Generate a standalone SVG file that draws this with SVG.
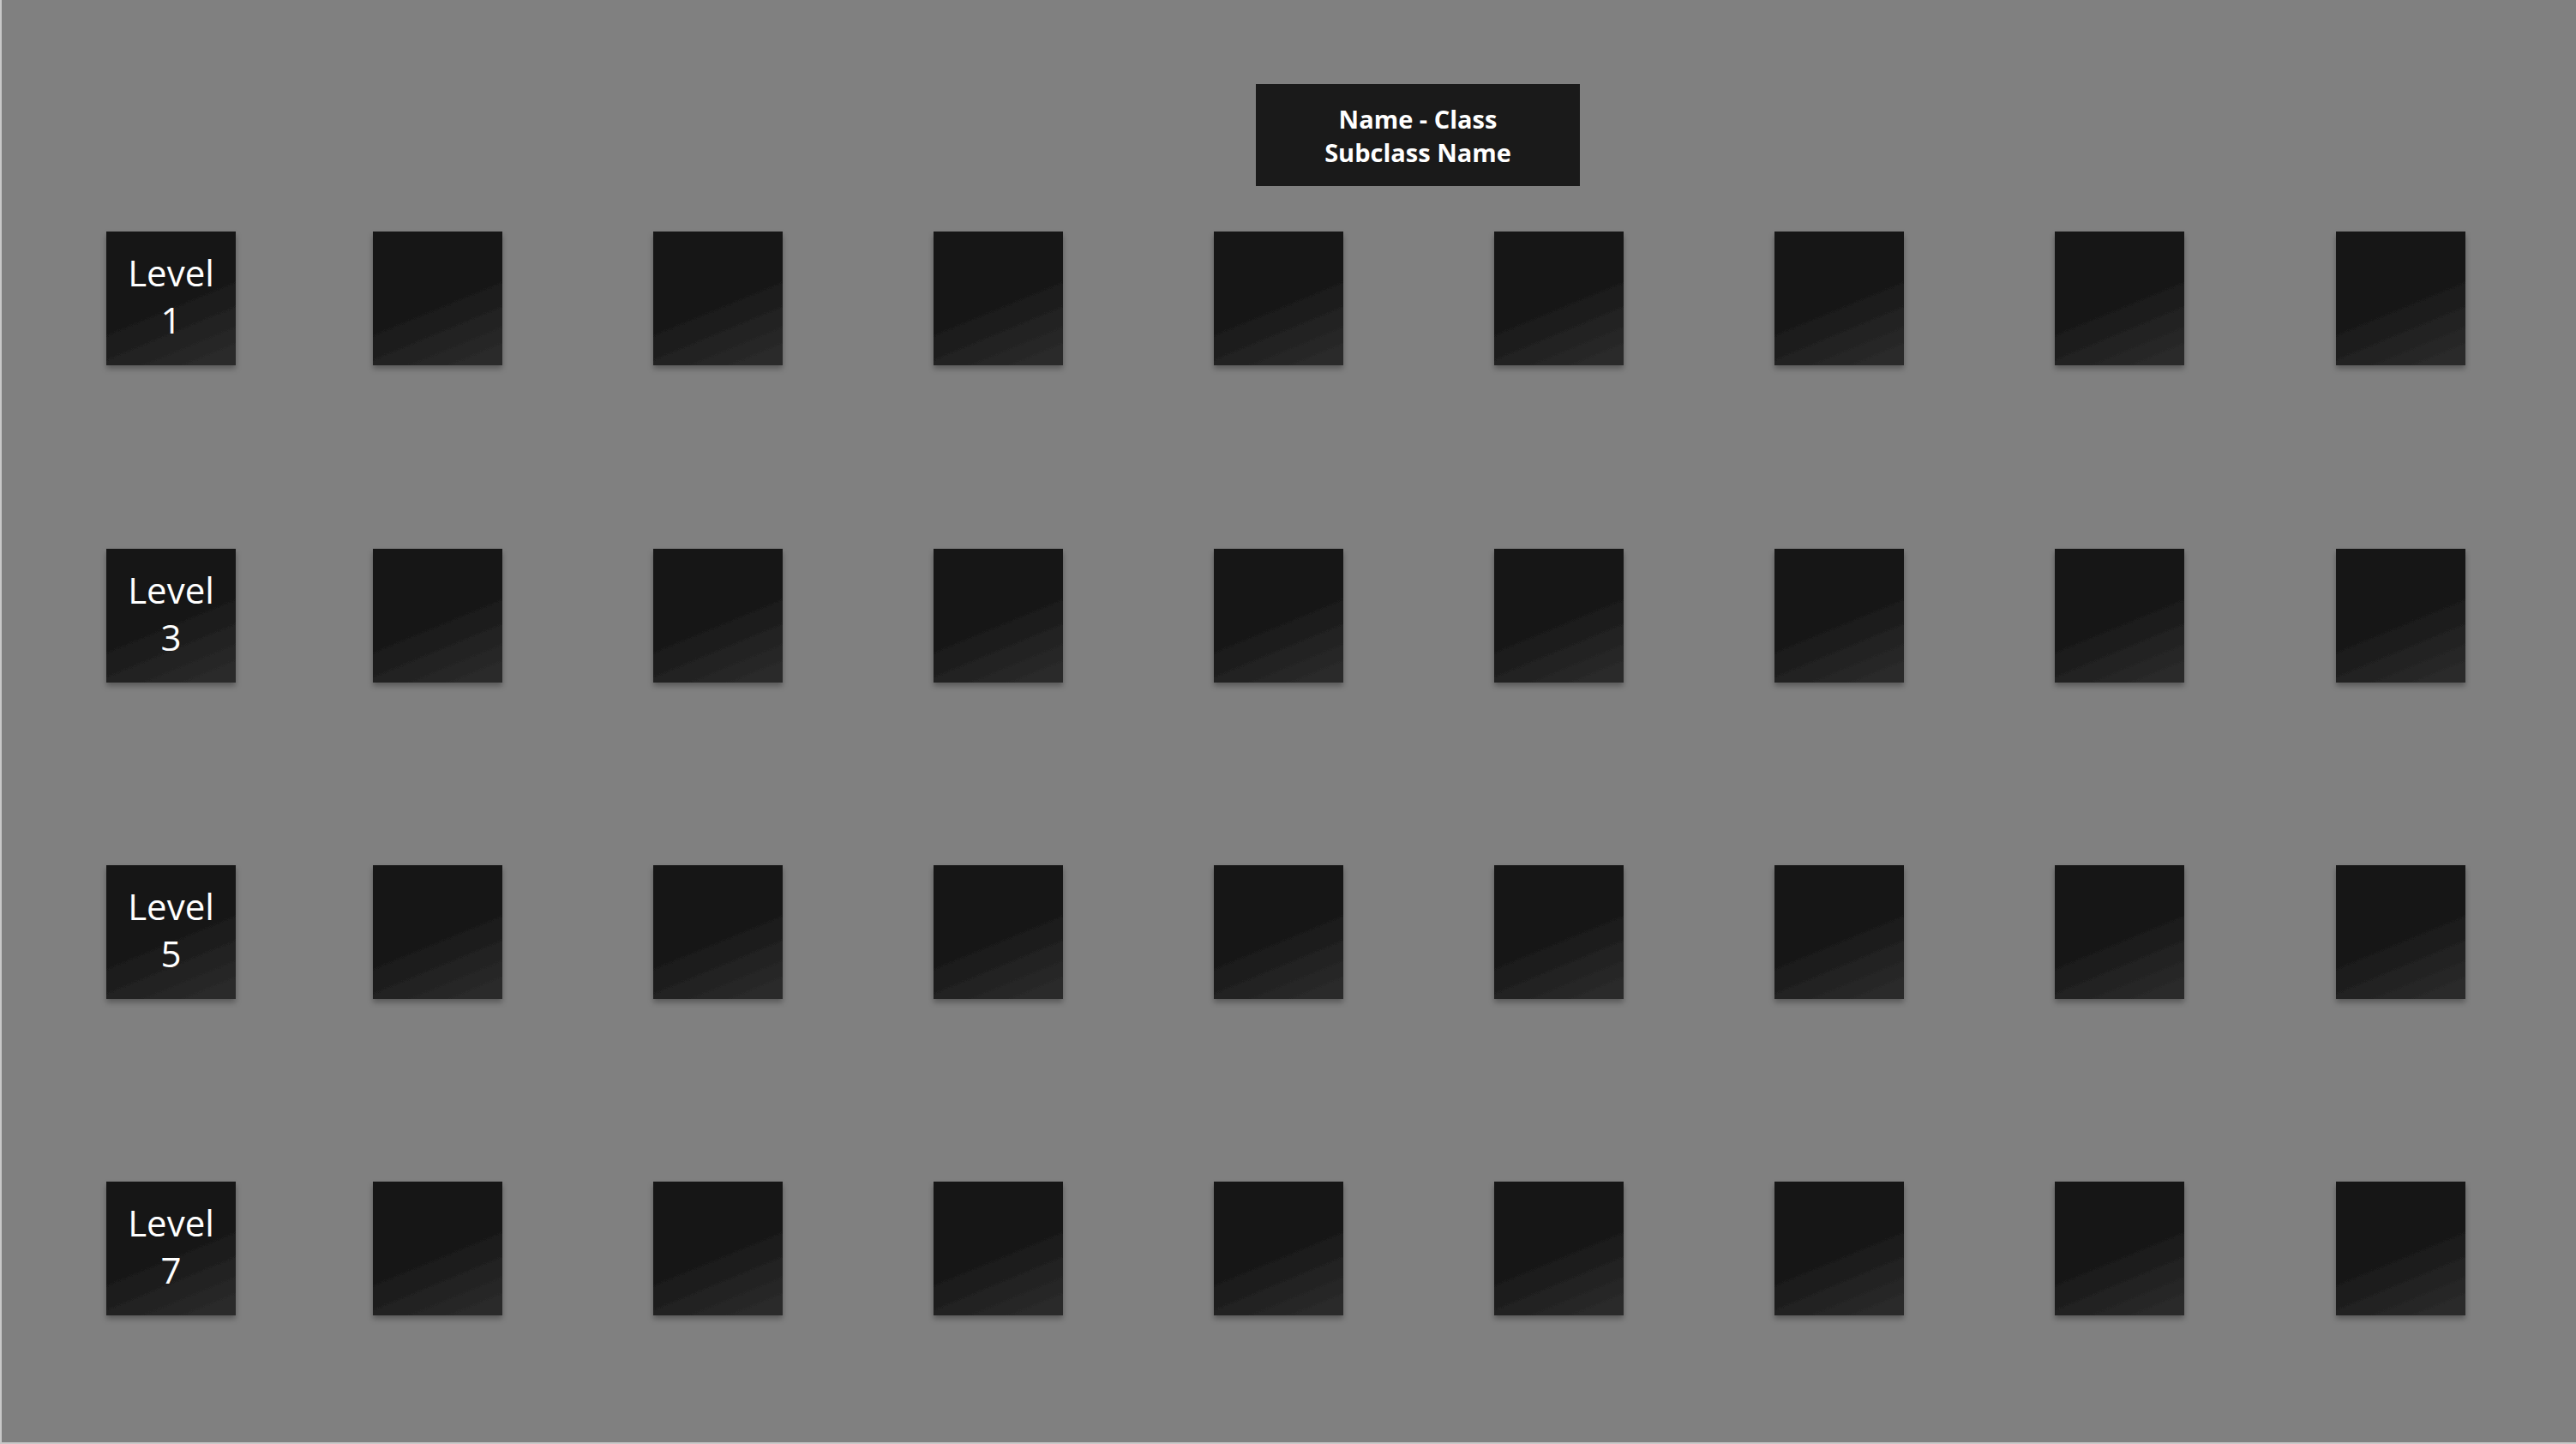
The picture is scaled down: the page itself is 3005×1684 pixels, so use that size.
<svg xmlns="http://www.w3.org/2000/svg" width="3005" height="1684" viewBox="0 0 3005 1684">
<style>
.cell{fill:url(#g);filter:url(#sh)}
.lvl{font-family:"Open Sans","Liberation Sans",sans-serif;font-size:42px;fill:#ffffff;text-anchor:middle}
.hdr{font-family:"Open Sans","Liberation Sans",sans-serif;font-size:29px;font-weight:bold;fill:#ffffff;text-anchor:middle}
</style>
<defs>
<linearGradient id="g" x1="0.3" y1="0" x2="0.7" y2="1">
<stop offset="0" stop-color="#121212"/>
<stop offset="0.4" stop-color="#131313"/>
<stop offset="1" stop-color="#2a2a2a"/>
</linearGradient>
<filter id="sh" x="-10%" y="-10%" width="120%" height="125%">
<feDropShadow dx="0" dy="4" stdDeviation="3" flood-color="#000" flood-opacity="0.3"/>
</filter>
</defs>
<rect x="0" y="0" width="3005" height="1684" fill="#c8c8c8"/>
<rect x="2" y="0" width="3003" height="1682" fill="#808080"/>
<g id="header">
<rect x="1465" y="98" width="378" height="119" fill="#1a1a1a"/>
<text class="hdr" x="1654" y="150">Name - Class</text>
<text class="hdr" x="1654" y="188.5">Subclass Name</text>
</g>
<g id="row1">
<g id="level1"><rect class="cell" x="124" y="270" width="151" height="156"/><text class="lvl" x="199.5" y="334.3">Level</text><text class="lvl" x="199.5" y="389.3">1</text></g>
<g id="r1c1"><rect class="cell" x="435" y="270" width="151" height="156"/></g>
<g id="r1c2"><rect class="cell" x="762" y="270" width="151" height="156"/></g>
<g id="r1c3"><rect class="cell" x="1089" y="270" width="151" height="156"/></g>
<g id="r1c4"><rect class="cell" x="1416" y="270" width="151" height="156"/></g>
<g id="r1c5"><rect class="cell" x="1743" y="270" width="151" height="156"/></g>
<g id="r1c6"><rect class="cell" x="2070" y="270" width="151" height="156"/></g>
<g id="r1c7"><rect class="cell" x="2397" y="270" width="151" height="156"/></g>
<g id="r1c8"><rect class="cell" x="2725" y="270" width="151" height="156"/></g>
</g>
<g id="row3">
<g id="level3"><rect class="cell" x="124" y="640" width="151" height="156"/><text class="lvl" x="199.5" y="704.3">Level</text><text class="lvl" x="199.5" y="759.3">3</text></g>
<g id="r3c1"><rect class="cell" x="435" y="640" width="151" height="156"/></g>
<g id="r3c2"><rect class="cell" x="762" y="640" width="151" height="156"/></g>
<g id="r3c3"><rect class="cell" x="1089" y="640" width="151" height="156"/></g>
<g id="r3c4"><rect class="cell" x="1416" y="640" width="151" height="156"/></g>
<g id="r3c5"><rect class="cell" x="1743" y="640" width="151" height="156"/></g>
<g id="r3c6"><rect class="cell" x="2070" y="640" width="151" height="156"/></g>
<g id="r3c7"><rect class="cell" x="2397" y="640" width="151" height="156"/></g>
<g id="r3c8"><rect class="cell" x="2725" y="640" width="151" height="156"/></g>
</g>
<g id="row5">
<g id="level5"><rect class="cell" x="124" y="1009" width="151" height="156"/><text class="lvl" x="199.5" y="1073.3">Level</text><text class="lvl" x="199.5" y="1128.3">5</text></g>
<g id="r5c1"><rect class="cell" x="435" y="1009" width="151" height="156"/></g>
<g id="r5c2"><rect class="cell" x="762" y="1009" width="151" height="156"/></g>
<g id="r5c3"><rect class="cell" x="1089" y="1009" width="151" height="156"/></g>
<g id="r5c4"><rect class="cell" x="1416" y="1009" width="151" height="156"/></g>
<g id="r5c5"><rect class="cell" x="1743" y="1009" width="151" height="156"/></g>
<g id="r5c6"><rect class="cell" x="2070" y="1009" width="151" height="156"/></g>
<g id="r5c7"><rect class="cell" x="2397" y="1009" width="151" height="156"/></g>
<g id="r5c8"><rect class="cell" x="2725" y="1009" width="151" height="156"/></g>
</g>
<g id="row7">
<g id="level7"><rect class="cell" x="124" y="1378" width="151" height="156"/><text class="lvl" x="199.5" y="1442.3">Level</text><text class="lvl" x="199.5" y="1497.3">7</text></g>
<g id="r7c1"><rect class="cell" x="435" y="1378" width="151" height="156"/></g>
<g id="r7c2"><rect class="cell" x="762" y="1378" width="151" height="156"/></g>
<g id="r7c3"><rect class="cell" x="1089" y="1378" width="151" height="156"/></g>
<g id="r7c4"><rect class="cell" x="1416" y="1378" width="151" height="156"/></g>
<g id="r7c5"><rect class="cell" x="1743" y="1378" width="151" height="156"/></g>
<g id="r7c6"><rect class="cell" x="2070" y="1378" width="151" height="156"/></g>
<g id="r7c7"><rect class="cell" x="2397" y="1378" width="151" height="156"/></g>
<g id="r7c8"><rect class="cell" x="2725" y="1378" width="151" height="156"/></g>
</g>
<g id="connectors"/>
</svg>
